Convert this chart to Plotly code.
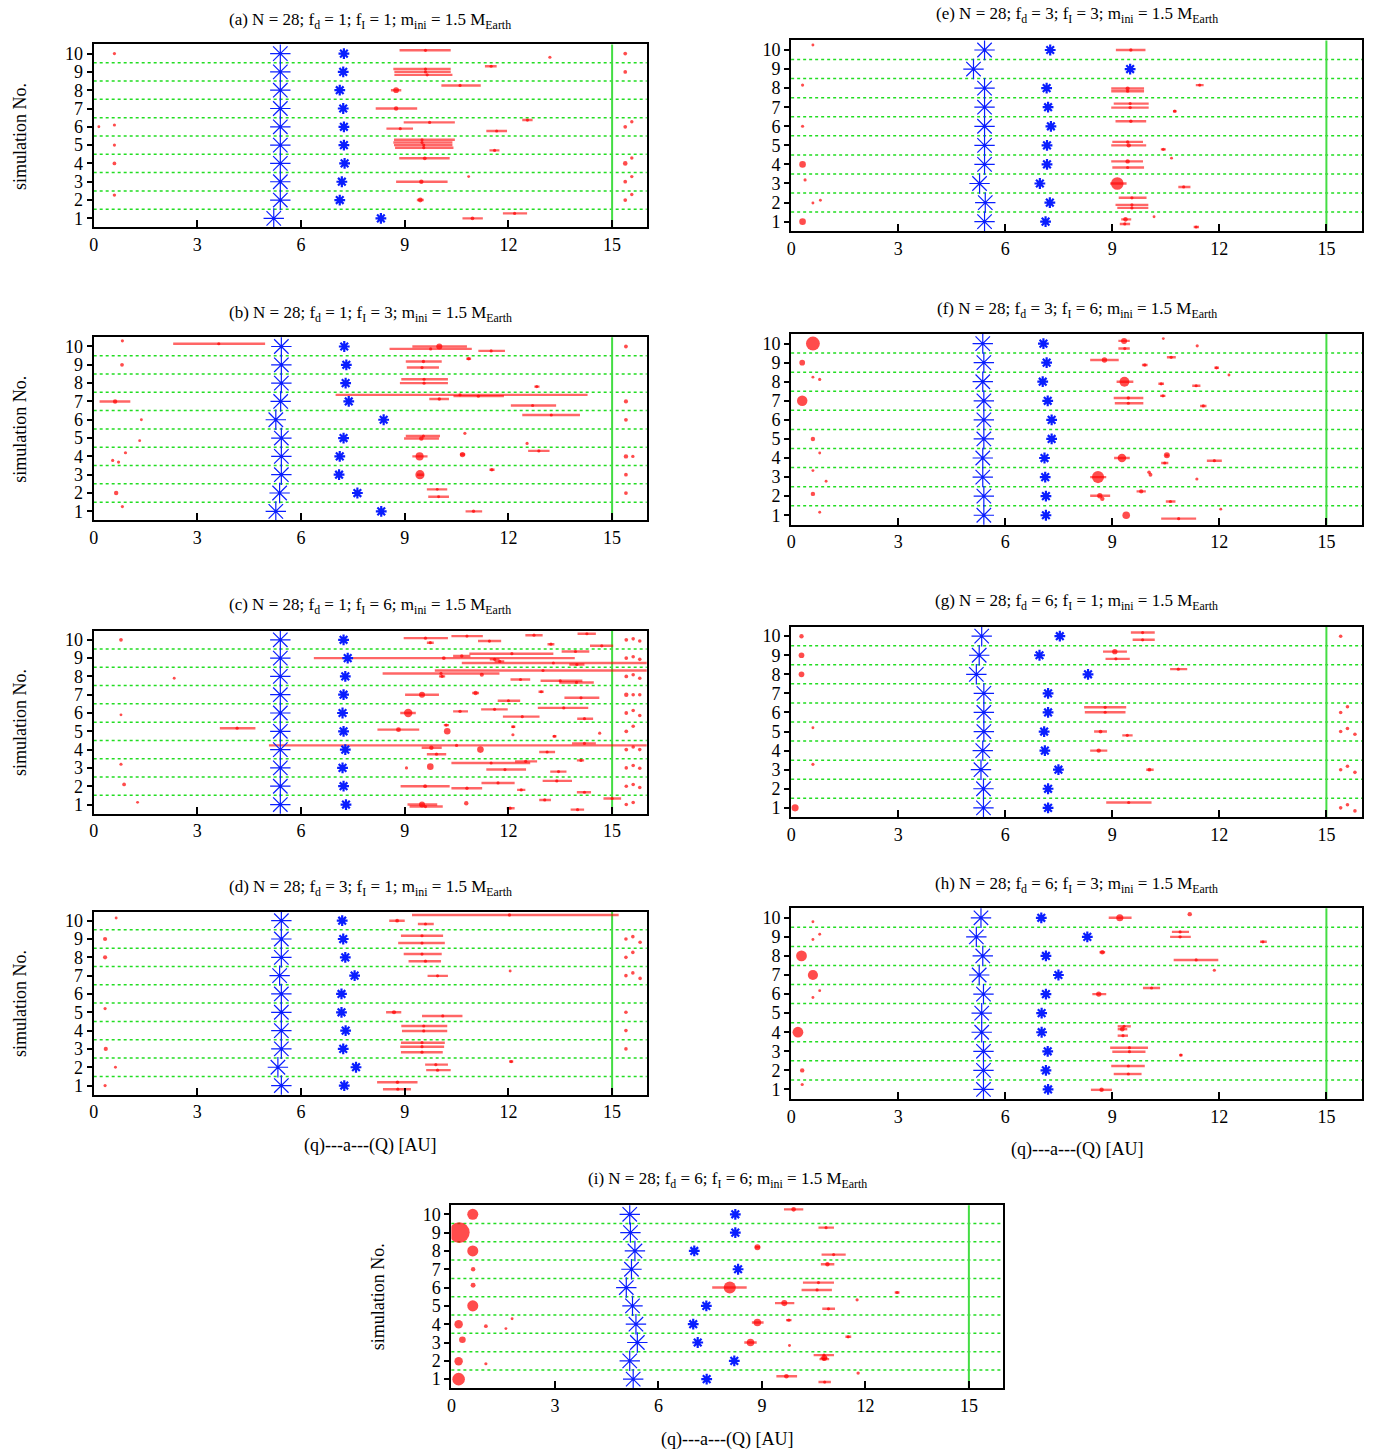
import plotly.graph_objects as go

W, H = 1383, 1456
SIMS = [1, 2, 3, 4, 5, 6, 7, 8, 9, 10]
XTICKS = [0, 3, 6, 9, 12, 15]

# ---------------- data ----------------
# bodies: (y, a, q, Q, mass)  q/Q None -> no orbit bar
A_TITLE = "(a) N = 28; f<sub>d</sub> = 1; f<sub>I</sub> = 1; m<sub>ini</sub> = 1.5 M<sub>Earth</sub>"
A_JUP = [5.21, 5.40, 5.40, 5.40, 5.40, 5.40, 5.40, 5.40, 5.40, 5.40]
A_SAT = [8.31, 7.12, 7.18, 7.26, 7.24, 7.24, 7.22, 7.12, 7.22, 7.24]
A_BODIES = [
    (10, 0.6, None, None, 0.02), (10.18, 9.6, 8.85, 10.33, 0.02), (9.8, 13.2, None, None, 0.02),
    (10, 15.38, None, None, 0.05), (9.31, 11.5, 11.32, 11.66, 0.02), (9.16, 9.6, 8.67, 10.33, 0.02),
    (9.0, 9.6, 8.7, 10.33, 0.02), (8.84, 9.65, 8.7, 10.38, 0.02), (9, 15.38, None, None, 0.05),
    (8.26, 10.6, 10.06, 11.2, 0.02), (8.0, 8.75, 8.6, 8.9, 0.25), (7.0, 8.75, 8.16, 9.36, 0.1),
    (6, 0.15, None, None, 0.01), (6.1, 0.6, None, None, 0.02), (6.24, 9.72, 8.97, 10.45, 0.02),
    (5.9, 8.87, 8.47, 9.24, 0.02), (6.37, 12.55, 12.4, 12.7, 0.02), (5.77, 11.66, 11.36, 11.96, 0.02),
    (6, 15.38, None, None, 0.05), (6.28, 15.57, None, None, 0.03), (5, 0.6, None, None, 0.02),
    (5.29, 9.5, 8.69, 10.45, 0.02), (5.14, 9.5, 8.67, 10.38, 0.02), (5.0, 9.55, 8.69, 10.38, 0.02),
    (4.86, 9.55, 8.72, 10.41, 0.02), (4.71, 11.6, 11.45, 11.74, 0.02), (4, 0.6, None, None, 0.05),
    (4.28, 9.58, 8.84, 10.3, 0.05), (4, 15.38, None, None, 0.12), (4.3, 15.57, None, None, 0.03),
    (3.28, 10.85, None, None, 0.01), (3.0, 9.48, 8.75, 10.24, 0.1), (3, 15.38, None, None, 0.05),
    (3.28, 15.57, None, None, 0.03), (2.27, 0.6, None, None, 0.03), (2, 9.45, 9.35, 9.55, 0.15),
    (2, 15.38, None, None, 0.05), (2.3, 15.57, None, None, 0.03), (1.27, 12.18, 11.84, 12.54, 0.02),
    (1.0, 10.96, 10.67, 11.26, 0.05),
]

B_TITLE = "(b) N = 28; f<sub>d</sub> = 1; f<sub>I</sub> = 3; m<sub>ini</sub> = 1.5 M<sub>Earth</sub>"
B_JUP = [5.27, 5.38, 5.43, 5.43, 5.43, 5.27, 5.41, 5.43, 5.43, 5.43]
B_SAT = [8.32, 7.63, 7.10, 7.12, 7.23, 8.39, 7.38, 7.29, 7.31, 7.25]
B_BODIES = [
    (10.31, 0.83, None, None, 0.02), (10.15, 3.62, 2.3, 4.96, 0.02), (10.0, 10.0, 9.22, 10.8, 0.3),
    (9.87, 9.75, 8.56, 10.94, 0.02), (9.76, 11.5, 11.13, 11.9, 0.02), (10, 15.4, None, None, 0.05),
    (9, 0.82, None, None, 0.05), (9.33, 10.85, 10.78, 10.92, 0.03), (9.18, 9.54, 9.03, 10.07, 0.03),
    (8.85, 9.5, 9.06, 9.99, 0.02), (8.21, 9.56, 8.9, 10.25, 0.02), (8.0, 9.56, 8.86, 10.25, 0.02),
    (7.81, 12.82, 12.75, 12.9, 0.02), (7.0, 0.62, 0.17, 1.06, 0.1), (7.36, 10.6, 7.0, 14.29, 0.02),
    (7.29, 11.13, 10.41, 11.87, 0.02), (7.13, 10.0, 9.71, 10.28, 0.03), (6.78, 12.7, 12.07, 13.38, 0.02),
    (7, 15.4, None, None, 0.08), (6.0, 1.38, None, None, 0.01), (6.26, 13.24, 12.4, 14.07, 0.02),
    (6, 15.4, None, None, 0.05), (4.86, 1.33, None, None, 0.01), (5.11, 9.54, 9.03, 10.02, 0.02),
    (4.98, 9.48, 8.98, 9.99, 0.1), (5.26, 10.74, None, None, 0.02), (4.71, 12.54, None, None, 0.02),
    (4.3, 12.88, 12.57, 13.19, 0.02), (4.2, 0.92, None, None, 0.02), (3.78, 0.55, None, None, 0.02),
    (3.69, 0.72, None, None, 0.02), (4.0, 9.43, 9.22, 9.66, 0.7), (4.1, 10.67, 10.6, 10.75, 0.2),
    (4, 15.4, None, None, 0.1), (4, 15.6, None, None, 0.03), (3.0, 9.44, 9.35, 9.55, 1.0),
    (3.27, 11.52, 11.45, 11.6, 0.03), (3, 15.4, None, None, 0.05), (2.0, 0.65, None, None, 0.1),
    (2.2, 9.94, 9.64, 10.23, 0.01), (1.8, 9.98, 9.68, 10.28, 0.01), (2, 15.4, None, None, 0.05),
    (1.26, 0.83, None, None, 0.02), (1.0, 10.99, 10.76, 11.24, 0.03),
]

C_TITLE = "(c) N = 28; f<sub>d</sub> = 1; f<sub>I</sub> = 6; m<sub>ini</sub> = 1.5 M<sub>Earth</sub>"
C_JUP = [5.40, 5.40, 5.40, 5.40, 5.40, 5.40, 5.40, 5.40, 5.40, 5.40]
C_SAT = [7.30, 7.23, 7.20, 7.28, 7.23, 7.20, 7.23, 7.28, 7.35, 7.23]
C_BODIES = [
    (10, 0.79, None, None, 0.05), (10.09, 9.6, 8.97, 10.25, 0.02), (10.2, 10.8, 10.35, 11.26, 0.02),
    (9.93, 11.45, 11.12, 11.79, 0.02), (9.84, 9.74, 9.64, 9.84, 0.02), (10.25, 12.74, 12.49, 12.99, 0.02),
    (10.33, 14.27, 14.0, 14.53, 0.02), (9.76, 13.23, 13.13, 13.33, 0.02), (10, 15.41, None, None, 0.05),
    (10.05, 15.61, None, None, 0.04), (9.93, 15.8, None, None, 0.04),
    (9.0, 10.13, 6.37, 13.92, 0.05), (9.24, 12.1, 10.87, 13.3, 0.02), (9.11, 10.65, 10.4, 10.9, 0.03),
    (8.93, 11.6, 11.46, 11.74, 0.02), (8.82, 11.75, 11.6, 11.88, 0.02), (9.36, 13.94, 13.54, 14.34, 0.02),
    (9.67, 14.7, 14.36, 15.03, 0.02), (9, 15.41, None, None, 0.05), (9.07, 15.61, None, None, 0.04),
    (8.93, 15.8, None, None, 0.04),
    (8.73, 13.3, 10.65, 16.5, 0.02), (8.65, 13.98, 13.76, 14.2, 0.02), (7.9, 2.33, None, None, 0.01),
    (8.32, 13.0, 9.87, 17.0, 0.02), (8.16, 10.05, 8.36, 11.74, 0.02), (8.0, 10.08, 9.99, 10.17, 0.03),
    (8.09, 11.23, None, None, 0.08), (7.83, 12.35, 12.06, 12.63, 0.02), (7.76, 13.5, 12.93, 14.14, 0.02),
    (7.67, 13.97, 13.47, 14.47, 0.02), (8, 15.41, None, None, 0.05), (8.09, 15.61, None, None, 0.04),
    (7.9, 15.8, None, None, 0.04),
    (7.0, 9.5, 9.01, 9.99, 0.3), (7.09, 11.05, 10.95, 11.15, 0.1), (7.16, 12.95, 12.87, 13.02, 0.02),
    (6.67, 12.0, 11.69, 12.34, 0.02), (6.83, 14.1, 13.62, 14.63, 0.02), (7, 15.41, None, None, 0.1),
    (7, 15.61, None, None, 0.04), (7, 15.8, None, None, 0.04),
    (5.9, 0.79, None, None, 0.01), (6.0, 9.1, 8.87, 9.32, 0.8), (6.09, 10.6, 10.4, 10.83, 0.03),
    (6.2, 11.6, 11.21, 11.98, 0.02), (5.8, 12.4, 11.84, 12.9, 0.02), (6.28, 13.6, 12.85, 14.31, 0.02),
    (5.69, 14.2, 13.99, 14.45, 0.02), (6, 15.41, None, None, 0.05), (6.14, 15.61, None, None, 0.04),
    (5.86, 15.8, None, None, 0.04),
    (5.17, 4.15, 3.65, 4.68, 0.02), (5.09, 8.82, 8.21, 9.42, 0.15), (5.0, 10.23, None, None, 0.4),
    (5.34, 10.2, 10.13, 10.28, 0.02), (4.81, 12.13, None, None, 0.02), (5.25, 12.14, 12.08, 12.2, 0.02),
    (4.73, 13.33, 13.28, 13.39, 0.02), (4.9, 14.64, None, None, 0.02), (5, 15.41, None, None, 0.05),
    (5.28, 15.61, None, None, 0.04),
    (4.23, 10.5, 5.07, 17.0, 0.02), (4.1, 9.77, 9.49, 10.07, 0.1), (4.0, 11.19, None, None, 0.4),
    (3.75, 9.92, 9.64, 10.2, 0.02), (3.87, 13.12, 12.89, 13.35, 0.02), (4.34, 14.2, 13.84, 14.53, 0.02),
    (4, 15.41, None, None, 0.05), (4.14, 15.61, None, None, 0.04), (4, 15.8, None, None, 0.04),
    (3.2, 0.79, None, None, 0.02), (3.0, 9.05, None, None, 0.02), (3.07, 9.74, None, None, 0.4),
    (3.27, 11.5, 10.35, 12.63, 0.02), (3.36, 12.5, 12.19, 12.83, 0.02), (2.91, 11.9, 11.36, 12.51, 0.02),
    (2.8, 13.45, 13.21, 13.68, 0.02), (3.41, 14.1, 13.98, 14.19, 0.02), (3.0, 15.41, None, None, 0.04),
    (3.13, 15.61, None, None, 0.04), (2.98, 15.8, None, None, 0.04),
    (2.1, 0.88, None, None, 0.05), (2.0, 9.59, 8.88, 10.3, 0.05), (1.89, 10.8, 10.35, 11.24, 0.03),
    (2.18, 11.7, 11.22, 12.18, 0.02), (1.8, 12.37, 12.25, 12.49, 0.02), (2.29, 13.4, 12.99, 13.84, 0.02),
    (1.67, 14.2, 13.98, 14.39, 0.02), (2, 15.41, None, None, 0.04), (2.09, 15.61, None, None, 0.04),
    (1.93, 15.8, None, None, 0.04),
    (1.12, 1.27, None, None, 0.01), (1.0, 9.5, 9.08, 9.94, 0.3), (0.89, 9.6, 9.14, 10.1, 0.02),
    (1.07, 10.78, None, None, 0.1), (0.8, 12.05, 11.95, 12.18, 0.02), (1.25, 13.05, 12.89, 13.23, 0.02),
    (0.72, 14.0, 13.8, 14.19, 0.02), (1.33, 15.0, 14.75, 15.26, 0.02), (1, 15.41, None, None, 0.04),
    (1.11, 15.61, None, None, 0.04),
]

D_TITLE = "(d) N = 28; f<sub>d</sub> = 3; f<sub>I</sub> = 1; m<sub>ini</sub> = 1.5 M<sub>Earth</sub>"
D_JUP = [5.43, 5.33, 5.43, 5.43, 5.43, 5.43, 5.38, 5.43, 5.43, 5.43]
D_SAT = [7.25, 7.59, 7.22, 7.29, 7.17, 7.17, 7.55, 7.28, 7.22, 7.19]
D_BODIES = [
    (10.15, 0.65, None, None, 0.01), (10.31, 12.03, 9.21, 15.19, 0.03), (10.0, 8.78, 8.55, 9.0, 0.05),
    (9.82, 9.6, 9.38, 9.84, 0.02), (9, 0.33, None, None, 0.08), (9.18, 9.5, 8.89, 10.11, 0.02),
    (8.78, 9.5, 8.81, 10.16, 0.02), (9, 15.4, None, None, 0.04), (9.13, 15.6, None, None, 0.04),
    (8.82, 15.81, None, None, 0.04), (8, 0.33, None, None, 0.08), (8.18, 9.5, 8.97, 10.07, 0.02),
    (7.79, 9.6, 9.11, 10.05, 0.02), (8, 15.4, None, None, 0.04), (8.27, 15.6, None, None, 0.04),
    (6.99, 9.95, 9.66, 10.25, 0.02), (7.25, 12.05, None, None, 0.01), (7, 15.4, None, None, 0.04),
    (7.15, 15.6, None, None, 0.04), (6.85, 15.81, None, None, 0.04), (5.2, 0.33, None, None, 0.02),
    (5.0, 8.69, 8.46, 8.9, 0.08), (4.8, 10.1, 9.5, 10.67, 0.02), (5, 15.4, None, None, 0.04),
    (4.25, 9.55, 8.9, 10.23, 0.02), (3.98, 9.55, 8.92, 10.23, 0.02), (4, 15.4, None, None, 0.04),
    (3.34, 9.5, 8.89, 10.16, 0.02), (3.12, 9.5, 8.87, 10.14, 0.02), (2.82, 9.5, 8.89, 10.1, 0.02),
    (3.0, 0.35, None, None, 0.08), (3, 15.4, None, None, 0.04), (2.0, 0.63, None, None, 0.01),
    (2.14, 9.9, 9.59, 10.25, 0.02), (1.84, 9.95, 9.62, 10.33, 0.02), (2.31, 12.08, 12.02, 12.14, 0.02),
    (1.0, 0.33, None, None, 0.02), (1.18, 8.79, 8.2, 9.37, 0.03), (0.8, 8.8, 8.37, 9.18, 0.02),
]

E_TITLE = "(e) N = 28; f<sub>d</sub> = 3; f<sub>I</sub> = 3; m<sub>ini</sub> = 1.5 M<sub>Earth</sub>"
E_JUP = [5.42, 5.44, 5.28, 5.42, 5.42, 5.42, 5.42, 5.42, 5.11, 5.42]
E_SAT = [7.13, 7.25, 6.97, 7.17, 7.17, 7.28, 7.20, 7.16, 9.50, 7.26]
E_BODIES = [
    (10.26, 0.61, None, None, 0.01), (10.0, 9.52, 9.1, 9.93, 0.03), (8.16, 0.32, None, None, 0.02),
    (8.16, 11.45, 11.34, 11.56, 0.02), (7.98, 9.43, 8.97, 9.89, 0.08), (7.84, 9.43, 8.97, 9.89, 0.02),
    (7.19, 9.5, 9.04, 10.02, 0.02), (6.98, 9.5, 8.97, 10.02, 0.03), (6.79, 10.75, 10.7, 10.8, 0.02),
    (6.0, 0.32, None, None, 0.02), (6.26, 9.52, 9.09, 9.95, 0.03), (5.18, 9.43, 9.0, 9.86, 0.03),
    (5.0, 9.46, 8.97, 9.95, 0.1), (4.79, 10.43, 10.36, 10.5, 0.02), (4.0, 0.32, None, None, 0.4),
    (4.16, 9.43, 8.97, 9.86, 0.1), (3.84, 9.43, 9.0, 9.89, 0.02), (4.33, 10.66, None, None, 0.01),
    (3.19, 0.39, None, None, 0.02), (3.0, 9.14, 8.94, 9.4, 2.2), (2.82, 11.0, 10.85, 11.19, 0.02),
    (1.98, 0.61, None, None, 0.01), (2.12, 0.82, None, None, 0.01), (2.25, 9.55, 9.18, 9.96, 0.02),
    (1.88, 9.55, 9.09, 10.01, 0.02), (1.72, 9.55, 9.14, 10.01, 0.02), (1.0, 0.32, None, None, 0.4),
    (1.12, 9.37, 9.25, 9.53, 0.12), (0.88, 9.35, 9.21, 9.5, 0.02), (1.26, 10.17, None, None, 0.01),
    (0.72, 11.35, 11.28, 11.43, 0.02),
]

F_TITLE = "(f) N = 28; f<sub>d</sub> = 3; f<sub>I</sub> = 6; m<sub>ini</sub> = 1.5 M<sub>Earth</sub>"
F_JUP = [5.40, 5.40, 5.37, 5.37, 5.40, 5.40, 5.40, 5.37, 5.40, 5.37]
F_SAT = [7.14, 7.14, 7.12, 7.10, 7.30, 7.30, 7.19, 7.05, 7.16, 7.07]
F_BODIES = [
    (10.0, 0.61, None, None, 2.8), (10.14, 9.33, 9.17, 9.49, 0.3), (9.74, 9.35, 9.17, 9.49, 0.02),
    (10.26, 10.43, None, None, 0.01), (9.88, 11.38, None, None, 0.02), (9.0, 0.31, None, None, 0.25),
    (9.14, 8.78, 8.38, 9.18, 0.2), (9.28, 10.65, 10.53, 10.78, 0.02), (8.88, 9.91, 9.83, 9.99, 0.03),
    (8.73, 11.92, 11.86, 11.99, 0.02), (8.35, 12.27, None, None, 0.01), (8.24, 0.61, None, None, 0.01),
    (8.12, 0.8, None, None, 0.02), (8.0, 9.34, 9.12, 9.59, 1.2), (7.89, 10.37, 10.29, 10.45, 0.02),
    (7.79, 11.35, 11.24, 11.47, 0.02), (7.0, 0.31, None, None, 1.4), (7.15, 9.45, 9.04, 9.87, 0.03),
    (6.87, 9.45, 9.07, 9.87, 0.02), (7.26, 10.42, 10.34, 10.49, 0.02), (6.73, 11.55, 11.46, 11.64, 0.02),
    (5.0, 0.61, None, None, 0.1), (4.26, 0.8, None, None, 0.01), (4.0, 9.27, 9.05, 9.49, 0.8),
    (4.14, 10.53, 10.48, 10.58, 0.3), (3.74, 10.47, 10.37, 10.57, 0.02), (3.86, 11.86, 11.65, 12.07, 0.02),
    (3.34, 0.61, None, None, 0.01), (2.78, 0.98, None, None, 0.01), (3.0, 8.6, 8.38, 8.83, 2.0),
    (3.25, 10.03, None, None, 0.04), (3.12, 10.07, None, None, 0.06), (2.9, 11.37, None, None, 0.02),
    (2.12, 0.61, None, None, 0.1), (2.02, 8.65, 8.38, 8.94, 0.2), (1.86, 8.72, None, None, 0.1),
    (2.25, 9.81, 9.68, 9.94, 0.08), (1.72, 10.63, 10.5, 10.77, 0.02), (1.16, 0.8, None, None, 0.01),
    (1.0, 9.39, None, None, 0.6), (0.82, 10.86, 10.37, 11.35, 0.02), (1.32, 12.04, None, None, 0.01),
]

G_TITLE = "(g) N = 28; f<sub>d</sub> = 6; f<sub>I</sub> = 1; m<sub>ini</sub> = 1.5 M<sub>Earth</sub>"
G_JUP = [5.39, 5.39, 5.32, 5.37, 5.40, 5.40, 5.40, 5.19, 5.27, 5.34]
G_SAT = [7.20, 7.20, 7.49, 7.11, 7.09, 7.20, 7.20, 8.32, 6.96, 7.53]
G_BODIES = [
    (10.0, 0.29, None, None, 0.1), (10.19, 9.85, 9.52, 10.19, 0.02), (9.81, 9.85, 9.57, 10.19, 0.02),
    (10.0, 15.4, None, None, 0.04), (9.0, 0.29, None, None, 0.25), (9.19, 9.07, 8.74, 9.41, 0.2),
    (8.81, 9.1, 8.81, 9.49, 0.02), (8.0, 0.29, None, None, 0.25), (8.27, 10.85, 10.62, 11.1, 0.02),
    (6.27, 8.8, 8.21, 9.39, 0.02), (6.01, 8.8, 8.23, 9.37, 0.02), (6.0, 15.4, None, None, 0.04),
    (6.3, 15.59, None, None, 0.04), (5.2, 0.61, None, None, 0.01), (5.0, 8.67, 8.49, 8.85, 0.05),
    (4.8, 9.42, 9.28, 9.57, 0.02), (5.0, 15.4, None, None, 0.04), (5.16, 15.59, None, None, 0.04),
    (4.86, 15.8, None, None, 0.04), (4.0, 8.62, 8.38, 8.86, 0.1), (3.28, 0.61, None, None, 0.02),
    (3.0, 10.04, 9.95, 10.16, 0.05), (3.0, 15.4, None, None, 0.04), (3.18, 15.59, None, None, 0.04),
    (2.86, 15.8, None, None, 0.04), (1.0, 0.11, None, None, 0.5), (1.28, 9.46, 8.83, 10.1, 0.02),
    (1.0, 15.4, None, None, 0.04), (1.16, 15.59, None, None, 0.04), (0.84, 15.8, None, None, 0.04),
]

H_TITLE = "(h) N = 28; f<sub>d</sub> = 6; f<sub>I</sub> = 3; m<sub>ini</sub> = 1.5 M<sub>Earth</sub>"
H_JUP = [5.39, 5.39, 5.39, 5.34, 5.34, 5.39, 5.27, 5.37, 5.19, 5.32]
H_SAT = [7.20, 7.14, 7.19, 7.02, 7.02, 7.14, 7.49, 7.14, 8.30, 7.01]
H_BODIES = [
    (9.79, 0.61, None, None, 0.01), (10.0, 9.21, 8.9, 9.54, 0.5), (10.19, 11.17, None, None, 0.1),
    (9.14, 0.8, None, None, 0.01), (8.86, 0.61, None, None, 0.01), (9.26, 10.9, 10.67, 11.15, 0.02),
    (9.0, 10.9, 10.62, 11.2, 0.03), (8.74, 13.22, 13.14, 13.33, 0.02), (8.0, 0.29, None, None, 1.5),
    (8.19, 8.72, 8.64, 8.8, 0.1), (7.79, 11.35, 10.72, 11.97, 0.02), (7.0, 0.61, None, None, 1.3),
    (7.25, 11.86, None, None, 0.02), (6.18, 0.8, None, None, 0.01), (5.82, 0.61, None, None, 0.01),
    (6.0, 8.62, 8.44, 8.83, 0.2), (6.32, 10.1, 9.86, 10.34, 0.02), (4.0, 0.19, None, None, 1.5),
    (4.31, 9.33, 9.15, 9.52, 0.02), (4.16, 9.28, 9.15, 9.42, 0.12), (3.82, 9.3, 9.15, 9.44, 0.02),
    (3.19, 9.48, 8.94, 10.0, 0.02), (2.98, 9.48, 9.0, 9.93, 0.02), (2.8, 10.92, 10.88, 10.97, 0.02),
    (2.0, 0.31, None, None, 0.1), (2.23, 9.45, 8.97, 9.91, 0.02), (1.81, 9.45, 9.04, 9.82, 0.02),
    (1.26, 0.31, None, None, 0.02), (0.98, 8.7, 8.4, 8.99, 0.1),
]

I_TITLE = "(i) N = 28; f<sub>d</sub> = 6; f<sub>I</sub> = 6; m<sub>ini</sub> = 1.5 M<sub>Earth</sub>"
I_JUP = [5.27, 5.17, 5.39, 5.35, 5.25, 5.07, 5.22, 5.32, 5.19, 5.17]
I_SAT = [7.40, 8.20, 7.14, 7.01, 7.39, None, 8.31, 7.04, 8.23, 8.23]
I_BODIES = [
    (10.0, 0.62, None, None, 1.6), (10.27, 9.92, 9.64, 10.2, 0.12), (9.0, 0.23, None, None, 7.0),
    (9.27, 10.86, 10.64, 11.09, 0.02), (8.0, 0.62, None, None, 1.6), (8.2, 8.87, 8.8, 8.95, 0.3),
    (7.8, 11.08, 10.73, 11.43, 0.02), (7.0, 0.63, None, None, 0.1), (7.27, 10.9, 10.71, 11.1, 0.1),
    (6.13, 0.63, None, None, 0.15), (6.0, 8.07, 7.56, 8.56, 2.0), (6.27, 10.64, 10.19, 11.09, 0.02),
    (5.87, 10.6, 10.15, 11.03, 0.02), (5.73, 12.92, 12.85, 12.99, 0.02), (5.0, 0.62, None, None, 1.6),
    (5.15, 9.65, 9.38, 9.94, 0.3), (5.33, 11.76, None, None, 0.02), (4.84, 10.93, 10.75, 11.12, 0.02),
    (4.0, 0.21, None, None, 0.8), (3.89, 1.0, None, None, 0.05), (3.76, 1.58, None, None, 0.01),
    (4.3, 1.76, None, None, 0.01), (4.09, 8.87, 8.71, 9.05, 0.6), (4.22, 9.78, 9.7, 9.86, 0.03),
    (3.15, 0.32, None, None, 0.4), (3.0, 8.67, 8.49, 8.85, 0.6), (2.84, 9.8, None, None, 0.01),
    (3.31, 11.5, 11.42, 11.59, 0.02), (1.98, 0.21, None, None, 0.8), (1.84, 1.0, None, None, 0.02),
    (2.16, 10.81, 10.7, 10.9, 0.25), (2.31, 10.8, 10.5, 11.09, 0.02), (2.09, 10.8, 10.67, 10.95, 0.02),
    (1.0, 0.21, None, None, 2.2), (1.16, 9.71, 9.42, 10.02, 0.12), (0.84, 10.82, 10.64, 11.0, 0.02),
    (1.33, 11.79, None, None, 0.03),
]

# ---------------- layout (pixel boxes: left, top, right, bottom) ----------------
PANELS = [
    ("a", A_TITLE, A_JUP, A_SAT, A_BODIES, (89, 43.5, 644, 226.8), 20, True, False),
    ("b", B_TITLE, B_JUP, B_SAT, B_BODIES, (89, 336.8, 644, 520.2), 313, True, False),
    ("c", C_TITLE, C_JUP, C_SAT, C_BODIES, (89, 630.5, 644, 813.8), 606, True, False),
    ("d", D_TITLE, D_JUP, D_SAT, D_BODIES, (89, 911.8, 644, 1095.2), 888, True, True),
    ("e", E_TITLE, E_JUP, E_SAT, E_BODIES, (789, 39.5, 1362, 230.5), 14, False, False),
    ("f", F_TITLE, F_JUP, F_SAT, F_BODIES, (789, 333.5, 1362, 524.5), 309, False, False),
    ("g", G_TITLE, G_JUP, G_SAT, G_BODIES, (789, 626.5, 1362, 817.5), 602, False, False),
    ("h", H_TITLE, H_JUP, H_SAT, H_BODIES, (789, 908.5, 1362, 1099.5), 885, False, True),
    ("i", I_TITLE, I_JUP, I_SAT, I_BODIES, (448, 1205.8, 1002, 1389.2), 1181, True, True),
]

FONT = "Liberation Serif, Times New Roman, serif"
RED = "#ff0000"
BAR = "rgba(255,0,0,0.6)"
BLUE = "#0a1eff"
GREEN_DOT = "#22dd22"
GREEN_V = "#44dd44"


def msize(m):
    return 2.2 + 7.0 * m ** 0.5


fig = go.Figure()
shapes, annotations = [], []

for k, (key, title, jup, sat, bodies, box, ty, ylab, xlab) in enumerate(PANELS):
    n = "" if k == 0 else str(k + 1)
    xr, yr = "x" + n, "y" + n
    left, top, right, bottom = box
    axis_common = dict(showline=True, mirror=True, linecolor="black", linewidth=2,
                       showgrid=False, zeroline=False,
                       tickfont=dict(family=FONT, size=18, color="black"))
    fig.layout["xaxis" + n] = dict(domain=[left / W, right / W], anchor=yr, range=[0, 16],
                                   tickmode="array", tickvals=XTICKS, ticks="inside",
                                   ticklen=7, tickwidth=2, tickcolor="black", **axis_common)
    fig.layout["yaxis" + n] = dict(domain=[1 - bottom / H, 1 - top / H], anchor=xr, range=[0.5, 10.5],
                                   tickmode="array", tickvals=SIMS, ticks="outside",
                                   ticklen=5, tickwidth=2, tickcolor="black", **axis_common)

    for g in [1.5, 2.5, 3.5, 4.5, 5.5, 6.5, 7.5, 8.5, 9.5]:
        shapes.append(dict(type="line", xref=xr + " domain", yref=yr, x0=0, x1=1, y0=g, y1=g,
                           line=dict(color=GREEN_DOT, width=1.5, dash="dot"), layer="below"))
    shapes.append(dict(type="line", xref=xr, yref=yr + " domain", x0=15, x1=15, y0=0, y1=1,
                       line=dict(color=GREEN_V, width=2), layer="below"))

    ys = [b[0] for b in bodies]
    xs = [b[1] for b in bodies]
    plus = [(b[3] - b[1]) if b[3] is not None else 0 for b in bodies]
    minus = [(b[1] - b[2]) if b[2] is not None else 0 for b in bodies]
    sizes = [msize(b[4]) for b in bodies]
    fig.add_trace(go.Scatter(x=xs, y=ys, mode="markers", xaxis=xr, yaxis=yr, showlegend=False,
                             marker=dict(color=RED, size=sizes, line=dict(width=0)),
                             error_x=dict(type="data", symmetric=False, array=plus, arrayminus=minus,
                                          width=0, thickness=2.4, color=BAR)))
    fig.add_trace(go.Scatter(x=jup, y=SIMS, mode="markers", xaxis=xr, yaxis=yr, showlegend=False,
                             marker=dict(symbol="asterisk-open", size=17, color=BLUE,
                                         line=dict(color=BLUE, width=1.2))))
    fig.add_trace(go.Scatter(x=sat, y=SIMS, mode="markers", xaxis=xr, yaxis=yr, showlegend=False,
                             marker=dict(symbol="asterisk-open", size=9, color=BLUE,
                                         line=dict(color=BLUE, width=2.2))))

    annotations.append(dict(text=title, x=(left + right) / 2 / W, y=1 - ty / H, xref="paper", yref="paper",
                            showarrow=False, xanchor="center", yanchor="middle",
                            font=dict(family=FONT, size=17, color="black")))
    if ylab:
        annotations.append(dict(text="simulation No.", x=(left - 74) / W, y=1 - (top + bottom) / 2 / H,
                                xref="paper", yref="paper", showarrow=False, textangle=-90,
                                xanchor="center", yanchor="middle",
                                font=dict(family=FONT, size=18, color="black")))
    if xlab:
        annotations.append(dict(text="(q)---a---(Q) [AU]", x=(left + right) / 2 / W, y=1 - (bottom + 51) / H,
                                xref="paper", yref="paper", showarrow=False,
                                xanchor="center", yanchor="middle",
                                font=dict(family=FONT, size=18, color="black")))

fig.update_layout(width=W, height=H, margin=dict(l=0, r=0, t=0, b=0),
                  paper_bgcolor="white", plot_bgcolor="white",
                  shapes=shapes, annotations=annotations, showlegend=False,
                  font=dict(family=FONT))

fig.write_html("out.html")
